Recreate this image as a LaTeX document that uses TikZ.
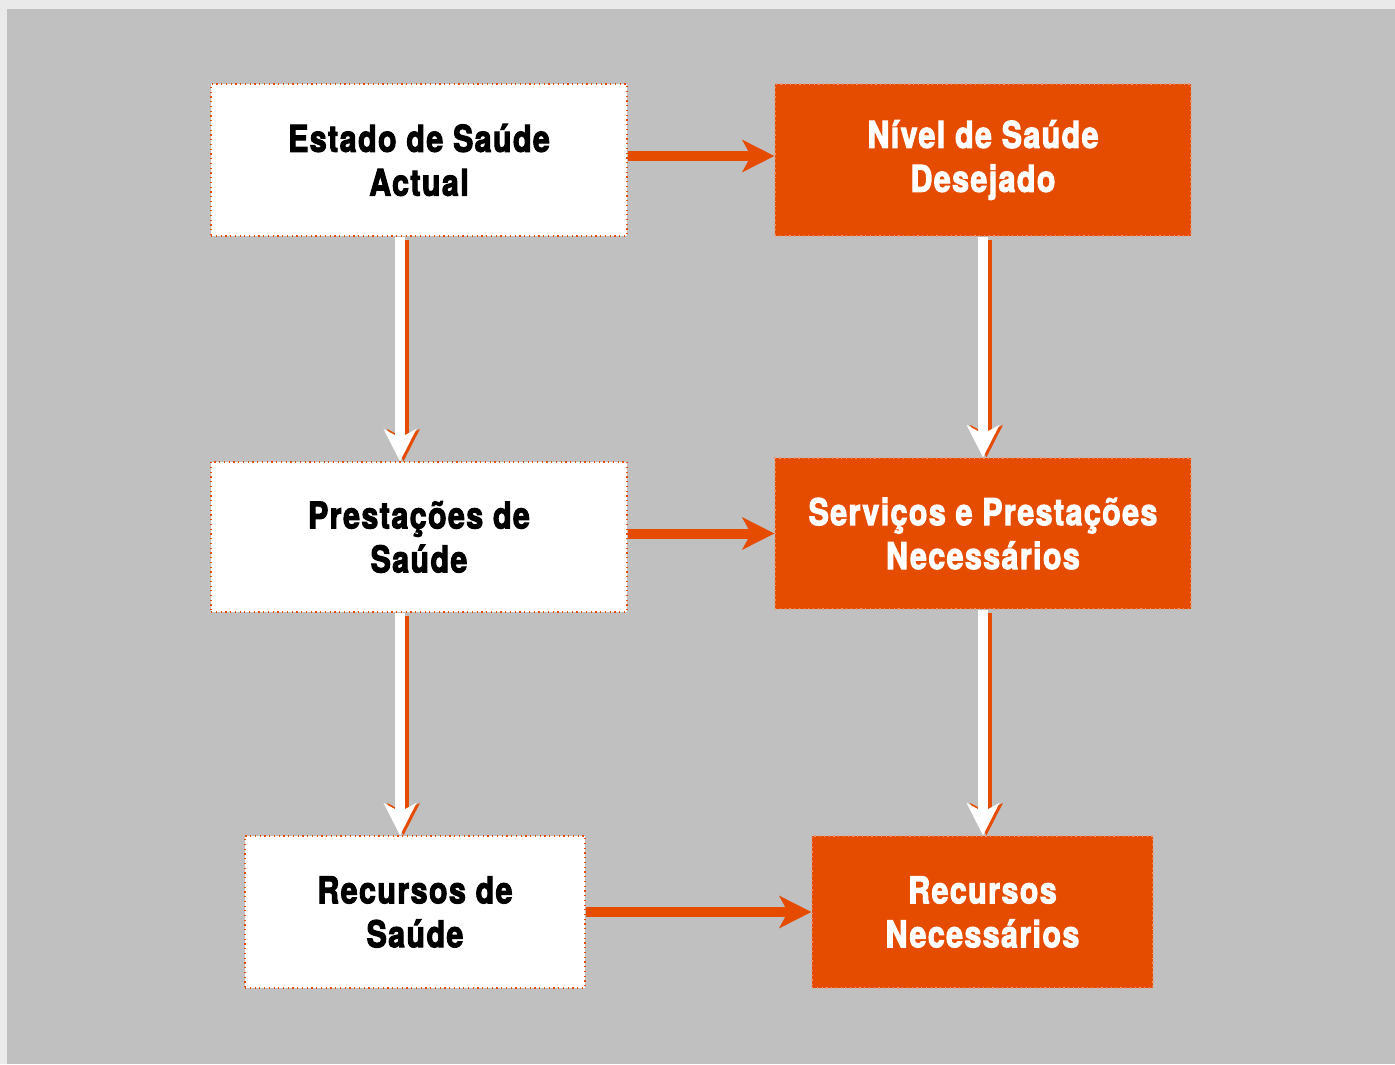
\documentclass[tikz,border=0pt]{standalone}
\usepackage{fontspec}
\setmainfont{TeX Gyre Heros}[FakeStretch=0.82,LetterSpace=4,BoldFeatures={FakeBold=2.8}]
\usetikzlibrary{arrows.meta}
\definecolor{laranja}{RGB}{229,76,0}
\definecolor{fundo}{RGB}{192,192,192}
\definecolor{moldura}{RGB}{234,234,234}
\definecolor{pontilhado}{RGB}{240,150,110}

\begin{document}
\begin{tikzpicture}[x=0.02cm,y=-0.02cm]
\tikzstyle{every node}+=[inner sep=0pt]
\tikzstyle{caixa}=[draw=laranja, dotted, line width=0.7pt, fill=white, align=center,
  minimum width=8.32cm, minimum height=3.04cm, font=\fontsize{21}{25}\selectfont\bfseries]
\tikzstyle{caixalar}=[caixa, fill=laranja, draw=pontilhado, text=white]
\tikzstyle{seta}=[line width=0.2cm, -{Stealth[length=0.64cm,width=0.64cm,inset=0.17cm]}]
% fundo
\fill [moldura] (0,0) rectangle (1395,1064);
\fill [fundo] (7,9) rectangle (1395,1064);
% caixas
\node [caixa] (estado) at (419,160) {Estado de Saúde\\Actual};
\node [caixalar] (nivel) at (983,160) {Nível de Saúde\\Desejado};
\node [caixa, minimum height=3cm] (prestacoes) at (419,537) {Prestações de\\Saúde};
\node [caixalar, minimum height=3.02cm] (servicos) at (983,533.5) {Serviços e Prestações\\Necessários};
\node [caixa, minimum width=6.8cm] (recursos) at (415,912) {Recursos de\\Saúde};
\node [caixalar, minimum width=6.82cm] (recnec) at (982.5,912) {Recursos\\Necessários};
% setas horizontais
\draw [seta, laranja] ([yshift=0.08cm]estado.east) -- ([yshift=0.08cm]nivel.west);
\draw [seta, laranja] (servicos.west -| prestacoes.east) -- (servicos.west);
\draw [seta, laranja] (recursos.east) -- (recursos.east -| recnec.west);
% setas verticais com sombra
\foreach \a/\b/\d in {estado/prestacoes/-0.38cm, prestacoes/recursos/-0.38cm,
  nivel/servicos/0cm, servicos/recnec/0cm}
{
  \draw [seta, laranja] ([xshift=\d+0.07cm,yshift=-0.06cm]\a.south) -- ([xshift=\d+0.07cm]\a.south |- \b.north);
  \draw [seta, white] ([xshift=\d]\a.south) -- ([xshift=\d]\a.south |- \b.north);
}
\end{tikzpicture}
\end{document}
